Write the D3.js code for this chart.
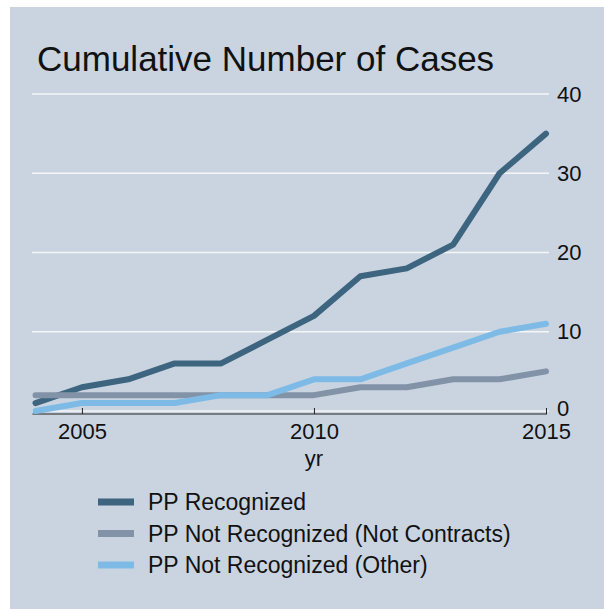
<!DOCTYPE html>
<meta charset="utf-8">
<head>
    <title>Cumulative Number of Cases</title>
    <script type="text/javascript" src="https://d3js.org/d3.v7.min.js"></script>
    <style>
        body { margin: 0; background: #fff; }
        text { font-family: 'Liberation Sans', Arial, sans-serif; fill: #111; }
    </style>
</head>
<body>
    <div id="chart"></div>
    <script>
        // data
        var years = [2004, 2005, 2006, 2007, 2008, 2009, 2010, 2011, 2012, 2013, 2014, 2015];
        var ppRecognized = [1, 3, 4, 6, 6, 9, 12, 17, 18, 21, 30, 35];
        var ppNotContracts = [2, 2, 2, 2, 2, 2, 2, 3, 3, 4, 4, 5];
        var ppOther = [0, 1, 1, 1, 2, 2, 4, 4, 6, 8, 10, 11];
        var seriesNames = ["PP Recognized", "PP Not Recognized (Not Contracts)", "PP Not Recognized (Other)"];
        var yTicks = [0, 10, 20, 30, 40];
        var xTicks = [2005, 2010, 2015];

        var colors = ["#3e6580", "#8293a7", "#7dbbe6"];

        var w = 604, h = 609;

        var svg = d3.select("#chart")
            .append("svg")
            .attr("width", w)
            .attr("height", h);

        // panel background
        svg.append("rect")
            .attr("x", 10).attr("y", 7)
            .attr("width", w - 10).attr("height", h - 7)
            .attr("fill", "#c9d4e0");

        var x = d3.scaleLinear().domain([2004, 2015]).range([35.5, 546]);
        var y = d3.scaleLinear().domain([0, 40]).range([411, 94]);

        // title
        svg.append("text")
            .attr("x", 37).attr("y", 71)
            .style("font-size", "35px")
            .text("Cumulative Number of Cases");

        // gridlines
        svg.append("g")
            .selectAll("line")
            .data(yTicks)
            .enter()
            .append("line")
            .attr("x1", 32).attr("x2", 549)
            .attr("y1", d => y(d)).attr("y2", d => y(d))
            .attr("stroke", "#f4f6f8")
            .attr("stroke-width", 1.5);

        // y axis on the right, labels only
        var yAxis = d3.axisRight(y).tickValues(yTicks).tickSize(0).tickPadding(0);
        var gy = svg.append("g")
            .attr("transform", "translate(557,0)")
            .call(yAxis);
        gy.select(".domain").remove();
        gy.selectAll("text").style("font-size", "22px").attr("fill", "#111")
            .attr("dy", d => d === 0 ? "0.2em" : "0.32em");

        // x axis
        var gx = svg.append("g")
            .attr("transform", "translate(0,414)")
            .call(d3.axisTop(x).tickValues(xTicks).tickFormat(d3.format("d")).tickSize(6).tickSizeOuter(0));
        gx.select(".domain").attr("stroke", "#222").attr("stroke-width", 1.2)
            .attr("d", "M" + (x(2004) - 3) + ",0H" + (x(2015) + 1));
        gx.selectAll(".tick line").attr("stroke", "#222");
        gx.selectAll("text")
            .attr("y", 25)
            .style("font-size", "22px")
            .attr("fill", "#111");

        svg.append("text")
            .attr("x", x(2010)).attr("y", 466)
            .attr("text-anchor", "middle")
            .style("font-size", "22px")
            .text("yr");

        // lines
        var allSeries = [ppRecognized, ppNotContracts, ppOther];
        var line = d3.line()
            .x((d, i) => x(years[i]))
            .y(d => y(d));

        svg.append("g")
            .selectAll("path")
            .data(allSeries)
            .enter()
            .append("path")
            .attr("d", d => line(d))
            .attr("fill", "none")
            .attr("stroke", (d, i) => colors[i])
            .attr("stroke-width", 6)
            .attr("stroke-linecap", "round")
            .attr("stroke-linejoin", "round");

        // legend
        var legend = svg.append("g")
            .selectAll("g")
            .data(seriesNames)
            .enter()
            .append("g")
            .attr("transform", (d, i) => "translate(98," + (502 + i * 31.5) + ")");

        legend.append("rect")
            .attr("x", 0).attr("y", -3.5)
            .attr("width", 36).attr("height", 7)
            .attr("fill", (d, i) => colors[i]);

        legend.append("text")
            .attr("x", 50).attr("y", 8)
            .style("font-size", "23px")
            .text(d => d);
    </script>
</body>
</html>
